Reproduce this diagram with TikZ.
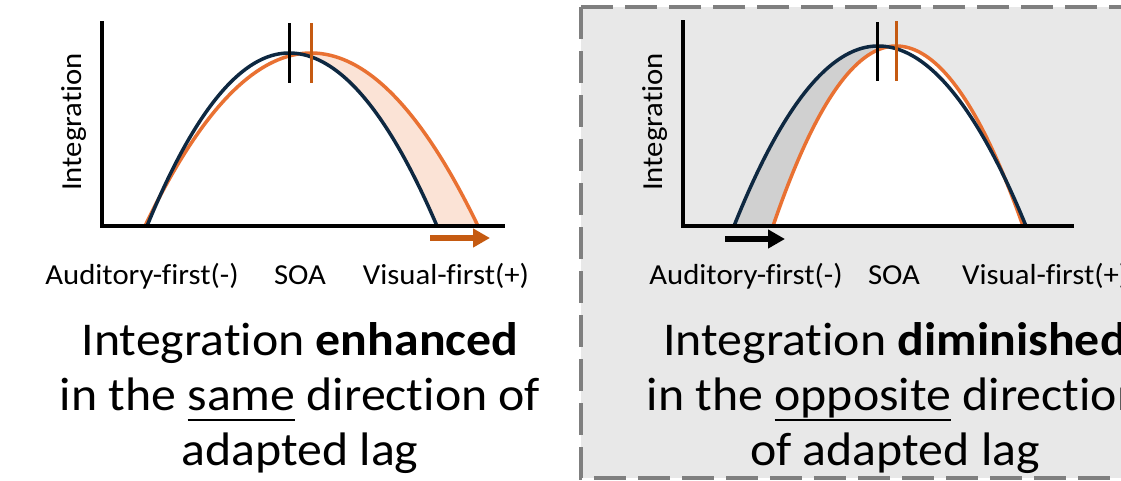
\documentclass[tikz,border=0pt]{standalone}
\usepackage{fontspec}
\setmainfont{Carlito}[Ligatures={NoCommon}, FakeStretch=1.06]
\usetikzlibrary{positioning, arrows.meta}

\definecolor{curveblack}{HTML}{0E2841}
\definecolor{curveorange}{HTML}{E97132}
\definecolor{markorange}{HTML}{C55A11}
\definecolor{bandpeach}{HTML}{FBE3D6}
\definecolor{bandgray}{HTML}{D0D0D0}
\definecolor{panelgray}{HTML}{E8E8E8}
\definecolor{dashgray}{HTML}{7F7F7F}

% a hump over the x-axis (y=226): start x, peak x, end x, peak y
\newcommand{\humpline}[4]{plot[domain=#1:#2, samples=60] (\x, {226-(226-#4)*(1-((\x-#2)/(#2-#1))^2)})
  -- plot[domain=#2:#3, samples=60] (\x, {226-(226-#4)*(1-((\x-#2)/(#3-#2))^2)})}
% thick underline for one word
\newlength{\uwordwd}
\newcommand{\uword}[1]{\settowidth{\uwordwd}{#1}\rlap{\rule[-11pt]{\uwordwd}{2.5pt}}#1}

\tikzset{
x=1pt, y=-1pt, % pixel-like grid, y grows downwards
axis/.style={line width=3.5pt, line cap=rect}, % the two axes
curve/.style={line width=3.5pt}, % integration curves
peakmark/.style={line width=3pt}, % vertical marks at the peaks
lagarrow/.style={line width=6.5pt, -{Triangle[length=17pt, width=18pt]}}, % adapted lag
smalllabel/.style={font=\fontsize{29}{35}\selectfont, inner sep=0pt},
caption/.style={font=\fontsize{47}{56}\selectfont, inner sep=0pt, text height=36pt, text depth=11pt},
node distance=55pt, % between caption lines
}

\begin{document}
\begin{tikzpicture}
\useasboundingbox (0,0) rectangle (1121,480);
\clip (0,0) rectangle (1121,480);

% right panel background
\draw[dashgray, line width=3.3pt, dash pattern=on 32pt off 12pt, fill=panelgray] (581,7) rectangle (1160,478);

% left: enhanced
\fill[bandpeach] \humpline{145}{311}{478}{53} -- cycle;
\fill[white] \humpline{147}{289}{437}{53} -- cycle;
\draw[curve, curveorange] \humpline{145}{311}{478}{53};
\draw[curve, curveblack] \humpline{147}{289}{437}{53};
\coordinate (oL) at (102,226);
\draw[axis] (102,23) -- (oL) -- (503,226);
\draw[peakmark, black] (289,23) -- (289,83);
\draw[peakmark, markorange] (311,23) -- (311,83);
\coordinate (lagL0) at (430,238);
\coordinate (lagL1) at (490,238);
\draw[lagarrow, markorange] (lagL0) -- (lagL1);

\node[smalllabel, rotate=90] (intL) at (74,122) {Integration};
\node[smalllabel, anchor=base] (audL) at (142,284) {Auditory-first(-)};
\node[smalllabel, anchor=base] (soaL) at (300,284) {SOA};
\node[smalllabel, anchor=base] (visL) at (446,284) {Visual-first(+)};

\node[caption] (capL1) at (300,342.5) {Integration \textbf{enhanced}};
\node[caption, below of=capL1] (capL2) {in the \uword{same} direction of};
\node[caption, below of=capL2] (capL3) {adapted lag};

% right: diminished
\fill[bandgray] \humpline{734}{878}{1026}{46} -- cycle;
\fill[white] \humpline{773}{896}{1023}{46} -- cycle;
\draw[curve, curveorange] \humpline{773}{896}{1023}{46};
\draw[curve, curveblack] \humpline{734}{878}{1026}{46};
\coordinate (oR) at (683,226);
\draw[axis] (683,22) -- (oR) -- (1072,226);
\draw[peakmark, black] (877,22) -- (877,81);
\draw[peakmark, markorange] (896,21) -- (896,81);
\coordinate (lagR0) at (725,239);
\coordinate (lagR1) at (785,239);
\draw[lagarrow, black] (lagR0) -- (lagR1);

\node[smalllabel, rotate=90] (intR) at (655,122) {Integration};
\node[smalllabel, anchor=base] (audR) at (746,284) {Auditory-first(-)};
\node[smalllabel, anchor=base] (soaR) at (894,284) {SOA};
\node[smalllabel, anchor=base west] (visR) at (962,284) {Visual-first(+)};

\node[caption] (capR1) at (895,342.5) {Integration \textbf{diminished}};
\node[caption, below of=capR1] (capR2) {in the \uword{opposite} direction};
\node[caption, below of=capR2] (capR3) {of adapted lag};
\end{tikzpicture}
\end{document}
